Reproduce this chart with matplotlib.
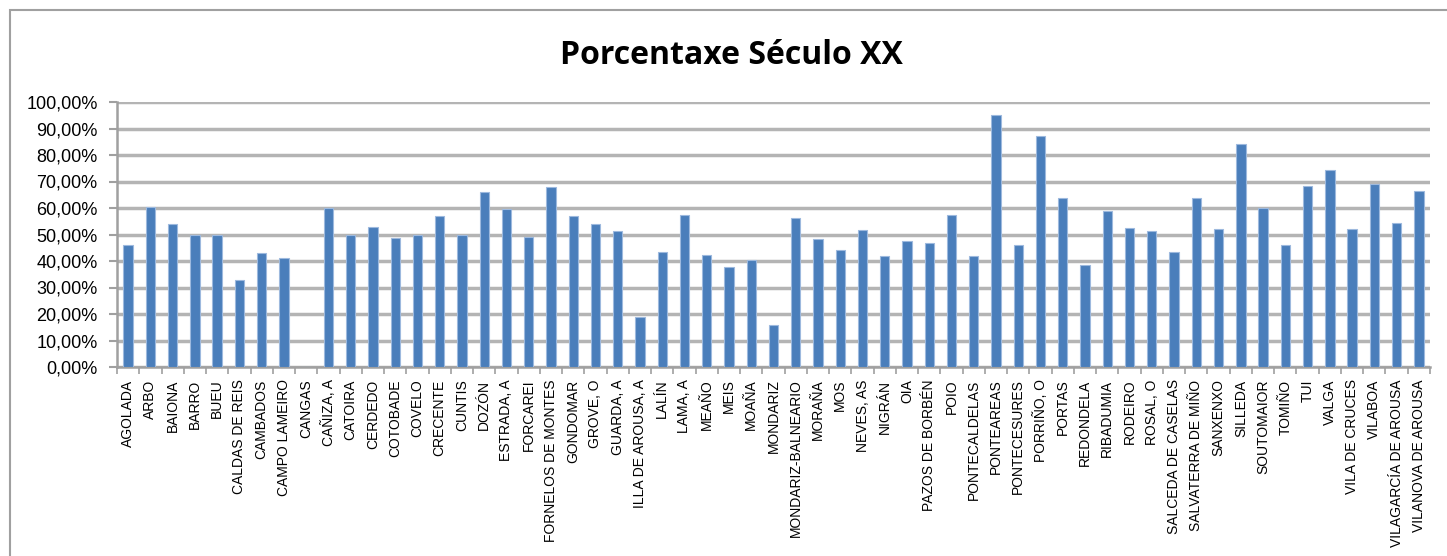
import matplotlib
matplotlib.use("Agg")
import matplotlib.pyplot as plt
from matplotlib.patches import Rectangle
import numpy as np

concellos = [
    "AGOLADA", "ARBO", "BAIONA", "BARRO", "BUEU", "CALDAS DE REIS", "CAMBADOS",
    "CAMPO LAMEIRO", "CANGAS", "CAÑIZA, A", "CATOIRA", "CERDEDO", "COTOBADE",
    "COVELO", "CRECENTE", "CUNTIS", "DOZÓN", "ESTRADA, A", "FORCAREI",
    "FORNELOS DE MONTES", "GONDOMAR", "GROVE, O", "GUARDA, A", "ILLA DE AROUSA, A",
    "LALÍN", "LAMA, A", "MEAÑO", "MEIS", "MOAÑA", "MONDARIZ", "MONDARIZ-BALNEARIO",
    "MORAÑA", "MOS", "NEVES, AS", "NIGRÁN", "OIA", "PAZOS DE BORBÉN", "POIO",
    "PONTECALDELAS", "PONTEAREAS", "PONTECESURES", "PORRIÑO, O", "PORTAS",
    "REDONDELA", "RIBADUMIA", "RODEIRO", "ROSAL, O", "SALCEDA DE CASELAS",
    "SALVATERRA DE MIÑO", "SANXENXO", "SILLEDA", "SOUTOMAIOR", "TOMIÑO", "TUI",
    "VALGA", "VILA DE CRUCES", "VILABOA", "VILAGARCÍA DE AROUSA", "VILANOVA DE AROUSA",
]
porcentaxe = [
    46, 60.5, 54, 50, 50, 33, 43, 41, 0, 60, 50, 53, 48.5, 50, 57, 50, 66,
    59.7, 49.2, 68, 56.8, 54, 51.3, 18.7, 43.5, 57.2, 42.3, 37.8, 40.2, 15.9,
    56.2, 48.4, 44.2, 51.8, 41.7, 47.4, 46.9, 57.2, 41.7, 95, 46, 87.2, 63.8,
    38.5, 59, 52.4, 51.3, 43.5, 63.8, 52, 84.2, 60, 46, 68.4, 74.4, 52, 69,
    54.3, 66.5,
]

plt.rcParams['font.family'] = ['Liberation Sans', 'DejaVu Sans']

fig = plt.figure(figsize=(14.47, 5.56), dpi=100)
W, H = 1447, 556
# chart border (cropped on right and bottom)
fig.patches.append(Rectangle((10 / W, -0.1), 1.2, 1 - 10 / H + 0.1, transform=fig.transFigure,
                             fill=False, edgecolor='#a0a0a0', linewidth=1.5))

ax = fig.add_axes([117 / W, 1 - 367 / H, (1430 - 117) / W, (367 - 102) / H])
x = np.arange(len(concellos))
ax.bar(x, porcentaxe, width=0.42, color='#4a7ebb', edgecolor='#9db9de', linewidth=0.8, zorder=3)

ax.set_xlim(-0.5, len(concellos) - 0.5)
ax.set_ylim(0, 100)
ax.set_yticks(np.arange(0, 101, 10))
ax.set_yticklabels([f"{v},00%" for v in range(0, 101, 10)], fontsize=13)
ax.yaxis.grid(True, color='#b4b4b4', linewidth=2.5, zorder=0)

ax.set_xticks(x)
ax.set_xticklabels(concellos, rotation=90, fontsize=10)
ax.tick_params(axis='x', length=0, pad=9)
ax.set_xticks(np.arange(-0.5, len(concellos), 1), minor=True)
ax.tick_params(axis='x', which='minor', length=5, color='#a0a0a0', width=1.2)
ax.tick_params(axis='y', length=6, color='#a0a0a0', width=1.5, pad=8)

for s in ['top', 'right']:
    ax.spines[s].set_visible(False)
for s in ['left', 'bottom']:
    ax.spines[s].set_color('#a0a0a0')
    ax.spines[s].set_linewidth(1.8)

fig.text(731 / W, 1 - 55 / H, "Porcentaxe Século XX", ha='center', va='center',
         fontsize=23, fontweight='bold', family=['Open Sans', 'DejaVu Sans'])

fig.savefig("out.png", dpi=100)
